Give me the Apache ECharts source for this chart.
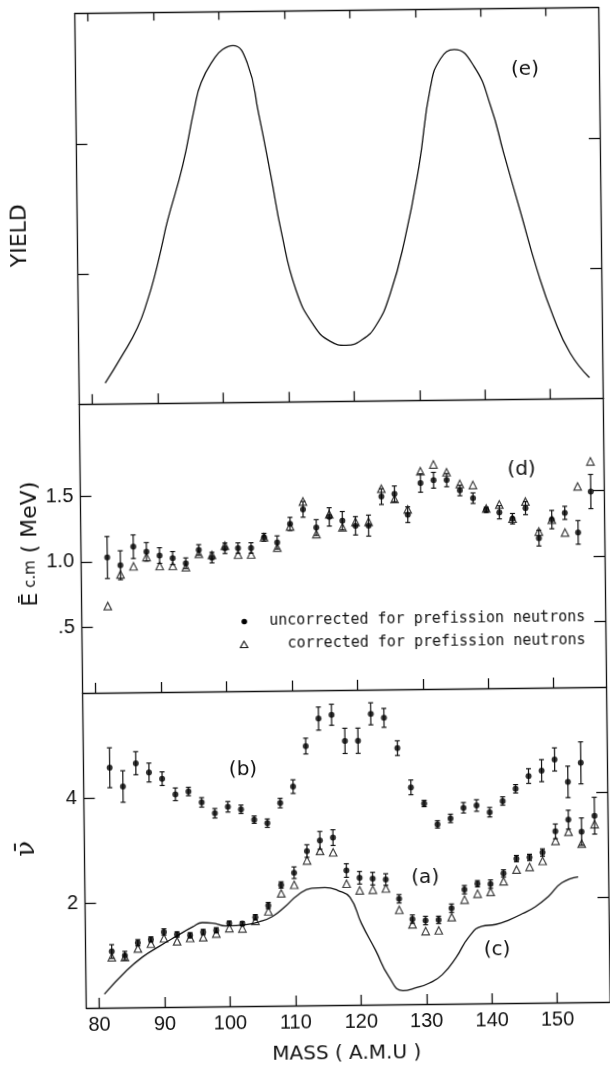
<!DOCTYPE html>
<html>
<head>
<meta charset="utf-8">
<script src="https://cdn.jsdelivr.net/npm/echarts@6/dist/echarts.min.js"></script>
<style>
html,body{margin:0;padding:0;background:#fff;overflow:hidden;}
#chart{width:610px;height:1067px;transform:rotate(-0.66deg);transform-origin:340px 508px;}
</style>
</head>
<body>
<div id="chart"></div>
<script>
// ---- tick labels ----
const xTicks = [80, 90, 100, 110, 120, 130, 140, 150];
const yieldTicks = [1, 2];
const ecmTicks = [0.5, 1.0, 1.5];
const ecmTickLabels = ['.5', '1.0', '1.5'];
const nuTicks = [2, 4];
const nuTickLabels = ['2', '4'];

// ---- (e) yield curve ----
const yieldMass = [82.0, 84.5, 87.0, 88.6, 89.8, 90.8, 91.8, 94.2, 96.1, 97.2, 99.2, 100.5, 102.1, 104.3, 105.9, 107.7, 109.2, 111.3, 113.9, 116.5, 118.9, 121.3, 123.5, 125.7, 128.0, 130.3, 132.2, 133.8, 135.9, 138.9, 141.4, 143.3, 145.8, 148.2, 150.6, 153.1, 156.0];
const yieldVal  = [0.16, 0.36, 0.58, 0.79, 0.99, 1.19, 1.40, 1.82, 2.26, 2.46, 2.64, 2.71, 2.74, 2.60, 2.22, 1.73, 1.30, 0.86, 0.59, 0.46, 0.43, 0.47, 0.58, 0.82, 1.23, 1.79, 2.40, 2.62, 2.69, 2.56, 2.25, 1.89, 1.43, 0.99, 0.63, 0.35, 0.16];

// ---- (d) E c.m ----
const massD = [82, 84, 86, 88, 90, 92, 94, 96, 98, 100, 102, 104, 106, 108, 110, 112, 114, 116, 118, 120, 122, 124, 126, 128, 130, 132, 134, 136, 138, 140, 142, 144, 146, 148, 150, 152, 154, 156];
const ecmUnc    = [1.03, 0.97, 1.11, 1.07, 1.04, 1.02, 0.98, 1.08, 1.02, 1.09, 1.09, 1.09, 1.17, 1.13, 1.27, 1.38, 1.24, 1.32, 1.29, 1.25, 1.25, 1.47, 1.49, 1.33, 1.57, 1.59, 1.59, 1.51, 1.45, 1.36, 1.34, 1.29, 1.37, 1.14, 1.28, 1.33, 1.18, 1.49];
const ecmUncErr = [0.16, 0.11, 0.09, 0.07, 0.06, 0.05, 0.04, 0.04, 0.04, 0.04, 0.04, 0.04, 0.03, 0.05, 0.05, 0.06, 0.06, 0.07, 0.07, 0.07, 0.08, 0.06, 0.06, 0.06, 0.07, 0.06, 0.05, 0.04, 0.04, 0.02, 0.05, 0.04, 0.05, 0.06, 0.07, 0.05, 0.09, 0.13];
const ecmCorr   = [0.66, 0.90, 0.96, 1.03, 0.96, 0.96, 0.95, 1.05, 1.04, 1.11, 1.04, 1.04, 1.17, 1.09, 1.25, 1.44, 1.19, 1.34, 1.24, 1.28, 1.28, 1.53, 1.45, 1.37, 1.66, 1.71, 1.65, 1.56, 1.55, 1.37, 1.40, 1.29, 1.42, 1.19, 1.28, 1.18, 1.53, 1.72];

// ---- (b) nu-bar ----
const massB = [82, 84, 86, 88, 90, 92, 94, 96, 98, 100, 102, 104, 106, 108, 110, 112, 114, 116, 118, 120, 122, 124, 126, 128, 130, 132, 134, 136, 138, 140, 142, 144, 146, 148, 150, 152, 154];
const nuB    = [4.57, 4.21, 4.65, 4.47, 4.35, 4.05, 4.10, 3.89, 3.68, 3.80, 3.75, 3.55, 3.48, 3.86, 4.17, 4.94, 5.46, 5.53, 5.03, 5.03, 5.54, 5.46, 4.88, 4.13, 3.82, 3.42, 3.53, 3.73, 3.77, 3.64, 3.85, 4.08, 4.32, 4.42, 4.63, 4.20, 4.56];
const nuBErr = [0.38, 0.30, 0.22, 0.18, 0.13, 0.12, 0.08, 0.09, 0.09, 0.10, 0.08, 0.07, 0.08, 0.09, 0.13, 0.15, 0.22, 0.20, 0.24, 0.24, 0.21, 0.18, 0.14, 0.14, 0.06, 0.07, 0.08, 0.10, 0.11, 0.09, 0.08, 0.08, 0.14, 0.21, 0.22, 0.30, 0.40];

// ---- (a) nu-bar ----
const massA = [82, 84, 86, 88, 90, 92, 94, 96, 98, 100, 102, 104, 106, 108, 110, 112, 114, 116, 118, 120, 122, 124, 126, 128, 130, 132, 134, 136, 138, 140, 142, 144, 146, 148, 150, 152, 154, 156];
const nuA     = [1.07, 0.99, 1.23, 1.29, 1.43, 1.38, 1.36, 1.42, 1.45, 1.58, 1.57, 1.69, 1.91, 2.30, 2.53, 2.94, 3.14, 3.19, 2.56, 2.42, 2.40, 2.38, 2.01, 1.62, 1.59, 1.60, 1.82, 2.17, 2.28, 2.27, 2.47, 2.75, 2.77, 2.86, 3.26, 3.48, 3.25, 3.55];
const nuAErr  = [0.13, 0.08, 0.06, 0.05, 0.06, 0.05, 0.05, 0.05, 0.05, 0.04, 0.04, 0.05, 0.06, 0.06, 0.11, 0.12, 0.17, 0.15, 0.13, 0.12, 0.12, 0.11, 0.08, 0.08, 0.08, 0.07, 0.08, 0.08, 0.06, 0.08, 0.07, 0.06, 0.06, 0.07, 0.14, 0.18, 0.26, 0.35];
const nuACorr = [0.96, 0.96, 1.12, 1.21, 1.31, 1.25, 1.31, 1.32, 1.39, 1.49, 1.48, 1.62, 1.80, 2.14, 2.30, 2.76, 2.94, 2.91, 2.31, 2.18, 2.19, 2.21, 1.80, 1.52, 1.39, 1.40, 1.65, 1.98, 2.09, 2.12, 2.32, 2.54, 2.59, 2.70, 3.08, 3.25, 3.02, 3.39];

// ---- (c) curve ----
const curveCMass = [80.8, 84.2, 86.7, 89.3, 91.8, 94.4, 95.9, 97.4, 99.5, 102.5, 104.5, 106.6, 108.6, 110.6, 112.7, 114.7, 116.7, 118.5, 120.2, 122.3, 124.3, 126.4, 128.4, 130.5, 132.5, 134.6, 136.6, 138.6, 140.7, 142.7, 144.8, 146.8, 148.8, 150.9, 153.4];
const curveCVal  = [0.26, 0.70, 0.96, 1.16, 1.34, 1.52, 1.60, 1.59, 1.53, 1.55, 1.60, 1.70, 1.89, 2.11, 2.23, 2.24, 2.18, 2.05, 1.55, 1.04, 0.53, 0.26, 0.31, 0.40, 0.56, 0.88, 1.27, 1.47, 1.50, 1.58, 1.70, 1.83, 2.02, 2.28, 2.39];

// ---- legend / labels text ----
const legendUnc = 'uncorrected for prefission neutrons';
const legendCorr = 'corrected for prefission neutrons';

const INK = '#111';
const TICKFONT = 'Liberation Sans';
const zip = (xs, ys) => xs.map((x, i) => [x, ys[i]]);

function errSeries(xs, ys, es, xi, yi) {
  return {
    type: 'custom', xAxisIndex: xi, yAxisIndex: yi, silent: true, z: 3,
    encode: { x: 0, y: [1, 2] },
    data: xs.map((x, i) => [x, ys[i] - es[i], ys[i] + es[i]]),
    renderItem: function (params, api) {
      const lo = api.coord([api.value(0), api.value(1)]);
      const hi = api.coord([api.value(0), api.value(2)]);
      const w = 2.5;
      const st = { stroke: INK, lineWidth: 1.2 };
      return {
        type: 'group', children: [
          { type: 'line', shape: { x1: lo[0], y1: lo[1], x2: hi[0], y2: hi[1] }, style: st },
          { type: 'line', shape: { x1: lo[0] - w, y1: lo[1], x2: lo[0] + w, y2: lo[1] }, style: st },
          { type: 'line', shape: { x1: hi[0] - w, y1: hi[1], x2: hi[0] + w, y2: hi[1] }, style: st }
        ]
      };
    }
  };
}
function dots(xs, ys, xi, yi) {
  return { type: 'scatter', xAxisIndex: xi, yAxisIndex: yi, data: zip(xs, ys), symbol: 'circle', symbolSize: 6,
    itemStyle: { color: '#000' }, z: 4, silent: true };
}
function tris(xs, ys, xi, yi) {
  return { type: 'scatter', xAxisIndex: xi, yAxisIndex: yi, data: zip(xs, ys), symbol: 'triangle', symbolSize: 7.5,
    itemStyle: { color: 'rgba(255,255,255,0)', borderColor: INK, borderWidth: 1.2 }, z: 3, silent: true };
}
function curve(xs, ys, xi, yi) {
  return { type: 'line', xAxisIndex: xi, yAxisIndex: yi, data: zip(xs, ys), smooth: 0.5,
    showSymbol: false, symbol: 'none', lineStyle: { color: INK, width: 1.3 }, z: 2, silent: true };
}

const axisLine = { show: true, onZero: false, lineStyle: { color: INK, width: 1.3 } };
function xAx(grid, pos, len, labels) {
  return {
    type: 'value', gridIndex: grid, position: pos, min: 78, max: 158,
    axisLine: axisLine, splitLine: { show: false },
    axisTick: { show: true, inside: true, length: len, customValues: xTicks, lineStyle: { color: INK, width: 1.3 } },
    axisLabel: labels ? { show: true, customValues: xTicks, margin: 7, color: INK, fontSize: 20, fontFamily: TICKFONT } : { show: false }
  };
}
function yAx(grid, pos, min, max, ticks, labels) {
  return {
    type: 'value', gridIndex: grid, position: pos, min: min, max: max,
    axisLine: axisLine, splitLine: { show: false },
    axisTick: { show: true, inside: true, length: 11, customValues: ticks, lineStyle: { color: INK, width: 1.3 } },
    axisLabel: labels ? { show: true, customValues: ticks, margin: 7, color: INK, fontSize: 20, fontFamily: TICKFONT,
      formatter: function (v) { const i = ticks.indexOf(v); return i >= 0 ? labels[i] : ''; } } : { show: false }
  };
}

function txt(x, y, text, size, family, extra) {
  return Object.assign({
    type: 'text', x: x, y: y, silent: true,
    style: { text: text, fill: INK, fontSize: size, fontFamily: family,
      align: 'center', verticalAlign: 'middle', textAlign: 'center', textVerticalAlign: 'middle' }
  }, extra || {});
}

const chart = echarts.init(document.getElementById('chart'), null, { renderer: 'canvas' });
chart.setOption({
  backgroundColor: '#fff',
  animation: false,
  grid: [
    { left: 80.5, top: 10.5, width: 523.5, height: 390.8, outerBoundsMode: 'none' },
    { left: 80.5, top: 401.3, width: 523.5, height: 288.7, outerBoundsMode: 'none' },
    { left: 80.5, top: 690, width: 523.5, height: 315, outerBoundsMode: 'none' }
  ],
  xAxis: [
    xAx(0, 'bottom', 10, false),
    xAx(0, 'top', 8, false),
    xAx(1, 'bottom', 10, false),
    xAx(2, 'bottom', 10, true)
  ],
  yAxis: [
    yAx(0, 'left', 0, 3, yieldTicks, null),
    yAx(0, 'right', 0, 3, yieldTicks, null),
    yAx(1, 'left', 0, 2.2, ecmTicks, ecmTickLabels),
    yAx(1, 'right', 0, 2.2, ecmTicks, null),
    yAx(2, 'left', 0, 6, nuTicks, nuTickLabels),
    yAx(2, 'right', 0, 6, nuTicks, null)
  ],
  series: [
    curve(yieldMass, yieldVal, 0, 0),
    // (d)
    tris(massD, ecmCorr, 2, 2),
    errSeries(massD, ecmUnc, ecmUncErr, 2, 2),
    dots(massD, ecmUnc, 2, 2),
    // (b)
    errSeries(massB, nuB, nuBErr, 3, 4),
    dots(massB, nuB, 3, 4),
    // (a)
    tris(massA, nuACorr, 3, 4),
    errSeries(massA, nuA, nuAErr, 3, 4),
    dots(massA, nuA, 3, 4),
    // (c)
    curve(curveCMass, curveCVal, 3, 4)
  ],
  graphic: { elements: [
    txt(530, 72, '(e)', 20, 'DejaVu Sans'),
    txt(522, 472, '(d)', 20, 'DejaVu Sans'),
    txt(240, 769, '(b)', 20, 'DejaVu Sans'),
    txt(421, 879, '(a)', 20, 'DejaVu Sans'),
    txt(492, 952, '(c)', 20, 'DejaVu Sans'),
    // legend
    { type: 'circle', shape: { cx: 243, cy: 620.5, r: 2.8 }, style: { fill: '#000' }, silent: true },
    { type: 'polygon', shape: { points: [[242.5, 640], [238.8, 646.5], [246.2, 646.5]] }, style: { fill: 'none', stroke: INK, lineWidth: 1.1 }, silent: true },
    { type: 'text', x: 584, y: 620.5, silent: true,
      style: { text: legendUnc, fill: INK, fontSize: 15, fontFamily: 'DejaVu Sans Mono',
        align: 'right', verticalAlign: 'middle', textAlign: 'right', textVerticalAlign: 'middle' } },
    { type: 'text', x: 584, y: 643.5, silent: true,
      style: { text: legendCorr, fill: INK, fontSize: 15, fontFamily: 'DejaVu Sans Mono',
        align: 'right', verticalAlign: 'middle', textAlign: 'right', textVerticalAlign: 'middle' } },
    // axis titles
    txt(23, 232, 'YIELD', 22, 'DejaVu Sans', { rotation: Math.PI / 2 }),
    { type: 'text', x: 30.5, y: 540.5, rotation: Math.PI / 2, silent: true,
      style: { text: '{e|\u0112}{s| c.m}{e| ( MeV)}', fill: INK, fontFamily: 'DejaVu Sans',
        align: 'center', verticalAlign: 'middle', textAlign: 'center', textVerticalAlign: 'middle',
        rich: { e: { fontSize: 22, fontFamily: 'DejaVu Sans', fill: INK, color: INK },
                s: { fontSize: 15, fontFamily: 'DejaVu Sans', fill: INK, color: INK } } } },
    txt(23, 845, '\u03BD\u0304', 26, 'DejaVu Serif', { rotation: Math.PI / 2 }),
    txt(340.5, 1054, 'MASS ( A.M.U )', 20, 'DejaVu Sans')
  ] }
});
</script>
</body>
</html>
